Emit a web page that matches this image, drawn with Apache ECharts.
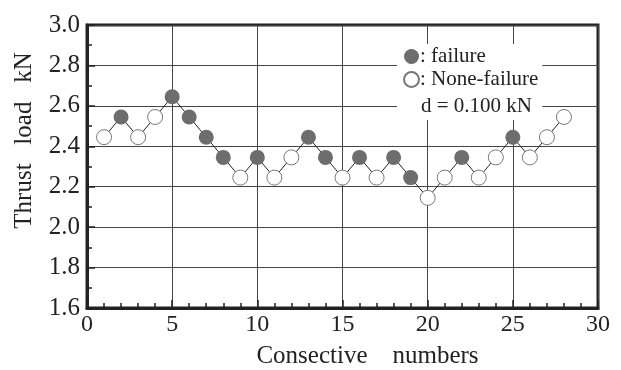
<!DOCTYPE html>
<html>
<head>
<meta charset="utf-8">
<script src="https://cdn.jsdelivr.net/npm/echarts@6/dist/echarts.min.js"></script>
<style>
  html, body { margin: 0; padding: 0; background: #fff; }
  #main { width: 621px; height: 370px; }
</style>
</head>
<body>
<div id="main"></div>
<script>
// consecutive test numbers and thrust load (kN)
var nums = [1,2,3,4,5,6,7,8,9,10,11,12,13,14,15,16,17,18,19,20,21,22,23,24,25,26,27,28];
var loads = [2.445,2.545,2.445,2.545,2.645,2.545,2.445,2.345,2.245,2.345,2.245,2.345,2.445,2.345,
             2.245,2.345,2.245,2.345,2.245,2.145,2.245,2.345,2.245,2.345,2.445,2.345,2.445,2.545];
// 1 = failure, 0 = none-failure
var failed = [0,1,0,0,1,1,1,1,0,1,0,0,1,1,0,1,0,1,1,0,0,1,0,0,1,0,0,0];

var failPts = [], okPts = [], allPts = [];
nums.forEach(function (n, i) {
  allPts.push([n, loads[i]]);
  if (failed[i]) failPts.push([n, loads[i]]);
  else okPts.push([n, loads[i]]);
});

var serif = 'Liberation Serif, DejaVu Serif, serif';
var chart = echarts.init(document.getElementById('main'));

option = {
  animation: false,
  grid: {
    left: 87, right: 23, top: 25, bottom: 62,
    outerBoundsMode: 'none',
    show: true, borderColor: '#222', borderWidth: 3
  },
  legend: {
    orient: 'vertical',
    left: 397, top: 44,
    itemWidth: 15, itemHeight: 15, itemGap: 2,
    padding: [2, 4, 30, 6],
    backgroundColor: '#fff',
    textStyle: { fontFamily: serif, fontSize: 21, color: '#222', padding: [0, 0, 0, -4] },
    formatter: function (name) { return ': ' + name; },
    data: [
      { name: 'failure', icon: 'circle' },
      { name: 'None-failure', icon: 'circle' }
    ]
  },
  graphic: [{
    type: 'text', left: 421, top: 96, z: 100,
    style: { text: 'd = 0.100 kN', font: '21px ' + serif, fill: '#222' }
  }],
  xAxis: {
    type: 'value', min: 0, max: 30, interval: 5,
    name: 'Consective    numbers', nameLocation: 'middle', nameGap: 36,
    nameTextStyle: { fontFamily: serif, fontSize: 25, color: '#222', padding: [0, 0, 0, 50] },
    axisLine: { show: true, lineStyle: { color: '#222', width: 3 } },
    axisTick: { inside: true, length: 8, lineStyle: { color: '#222', width: 1.5 } },
    minorTick: { show: true, splitNumber: 5, length: 5, lineStyle: { color: '#222', width: 1.5 } },
    axisLabel: { fontFamily: serif, fontSize: 24, color: '#222', margin: 5 },
    splitLine: { show: true, lineStyle: { color: '#444', width: 1 } }
  },
  yAxis: {
    type: 'value', min: 1.6, max: 3.0, interval: 0.2,
    name: 'Thrust   load   kN', nameLocation: 'middle', nameGap: 50,
    nameTextStyle: { fontFamily: serif, fontSize: 25, color: '#222', padding: [0, 0, 0, 52] },
    axisLine: { show: true, lineStyle: { color: '#222', width: 3 } },
    axisTick: { inside: true, length: 8, lineStyle: { color: '#222', width: 1.5 } },
    minorTick: { show: true, splitNumber: 2, length: 5, lineStyle: { color: '#222', width: 1.5 } },
    axisLabel: {
      fontFamily: serif, fontSize: 25, color: '#222', margin: 7,
      formatter: function (v) { return v.toFixed(1); }
    },
    splitLine: { show: true, lineStyle: { color: '#444', width: 1 } }
  },
  series: [
    {
      name: 'path', type: 'line', data: allPts, symbol: 'none',
      lineStyle: { color: '#222', width: 1 }, z: 2
    },
    {
      name: 'failure', type: 'scatter', data: failPts, symbolSize: 15,
      itemStyle: { color: '#6d6d6d', opacity: 1 }, z: 3
    },
    {
      name: 'None-failure', type: 'scatter', data: okPts, symbolSize: 15,
      itemStyle: { color: '#fff', borderColor: '#777', borderWidth: 1, opacity: 1 }, z: 3
    }
  ]
};

chart.setOption(option);
</script>
</body>
</html>
